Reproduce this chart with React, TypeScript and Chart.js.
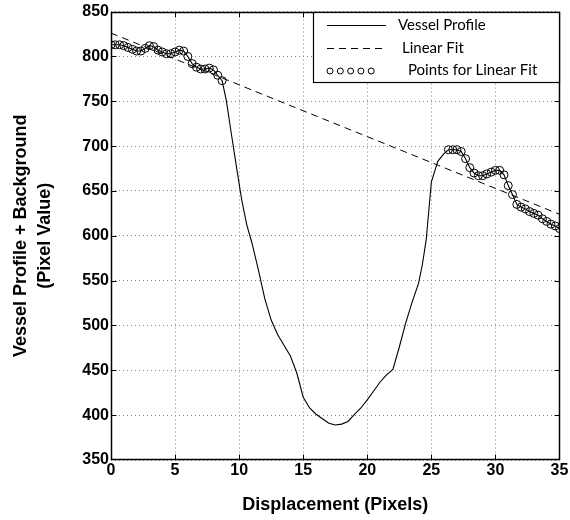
import React, { useEffect, useRef } from 'react';
import { Chart, registerables } from 'chart.js';

Chart.register(...registerables);

// Vessel profile (solid line)
const profileX = [0, 0.33, 0.67, 1, 1.33, 1.67, 2, 2.33, 2.67, 3, 3.33, 3.67, 4, 4.33, 4.67, 5, 5.33, 5.67, 6, 6.33, 6.67, 7, 7.33, 7.67, 8, 8.33, 8.67, 9, 9.4, 9.8, 10.2, 10.6, 11, 11.5, 12, 12.5, 13, 13.5, 14, 14.5, 15, 15.5, 16, 16.5, 17, 17.5, 18, 18.5, 19, 19.5, 20, 20.5, 21, 21.5, 22, 22.5, 23, 23.5, 24, 24.3, 24.6, 24.8, 25, 25.5, 26, 26.33, 26.67, 27, 27.33, 27.67, 28, 28.33, 28.67, 29, 29.33, 29.67, 30, 30.33, 30.67, 31, 31.33, 31.67, 32, 32.33, 32.67, 33, 33.33, 33.67, 34, 34.33, 34.67, 35];
const profileY = [813, 813, 813, 812, 810, 808, 806, 806, 809, 812, 811, 807, 805, 803, 803, 805, 807, 806, 800, 792, 788, 786, 786, 787, 785, 779, 773, 751, 713, 676, 640, 612, 592, 562, 530, 506, 490, 478, 466, 447, 420, 408, 401, 396, 391, 389, 390, 393, 401, 408, 417, 427, 437, 445, 451, 476, 503, 526, 547, 568, 596, 628, 660, 683, 692, 696, 696, 696, 694, 686, 676, 670, 667, 667, 669, 671, 673, 673, 668, 656, 646, 635, 632, 630, 627, 625, 623, 619, 616, 613, 611, 608];

// Points used for the linear fit (circles)
const fitX = [0, 0.33, 0.67, 1, 1.33, 1.67, 2, 2.33, 2.67, 3, 3.33, 3.67, 4, 4.33, 4.67, 5, 5.33, 5.67, 6, 6.33, 6.67, 7, 7.33, 7.67, 8, 8.33, 8.67, 26.33, 26.67, 27, 27.33, 27.67, 28, 28.33, 28.67, 29, 29.33, 29.67, 30, 30.33, 30.67, 31, 31.33, 31.67, 32, 32.33, 32.67, 33, 33.33, 33.67, 34, 34.33, 34.67, 35];
const fitY = [813, 813, 813, 812, 810, 808, 806, 806, 809, 812, 811, 807, 805, 803, 803, 805, 807, 806, 800, 792, 788, 786, 786, 787, 785, 779, 773, 696, 696, 696, 694, 686, 676, 670, 667, 667, 669, 671, 673, 673, 668, 656, 646, 635, 632, 630, 627, 625, 623, 619, 616, 613, 611, 608];

// Linear fit (dashed)
const lineX = [0, 35];
const lineY = [826, 624];

const xTicks = [0, 5, 10, 15, 20, 25, 30, 35];
const yTicks = [350, 400, 450, 500, 550, 600, 650, 700, 750, 800, 850];

const legendLabels = ['Vessel Profile', 'Linear Fit', 'Points for Linear Fit'];
const xTitle = 'Displacement (Pixels)';
const yTitle = ['Vessel Profile + Background', '(Pixel Value)'];

const AXIS_FONT = 'Liberation Sans, Arial, sans-serif';
const LEGEND_FONT = 'Lato, "Noto Sans", sans-serif';

const framePlugin = {
  id: 'frame',
  afterDraw(chart: any) {
    const { ctx, chartArea: a, scales } = chart;
    const L = Math.round(a.left) + 0.5;
    const R = Math.round(a.right) - 0.5;
    const T = Math.round(a.top) + 0.5;
    const B = Math.round(a.bottom) - 0.5;
    ctx.save();
    ctx.setLineDash([]);
    ctx.strokeStyle = '#000';
    ctx.lineWidth = 1;
    // inward tick marks
    ctx.beginPath();
    const tl = 5;
    xTicks.forEach((v) => {
      const px = Math.round(scales.x.getPixelForValue(v)) + 0.5;
      if (v === xTicks[0] || v === xTicks[xTicks.length - 1]) return;
      ctx.moveTo(px, B); ctx.lineTo(px, B - tl);
      ctx.moveTo(px, T); ctx.lineTo(px, T + tl);
    });
    yTicks.forEach((v) => {
      const py = Math.round(scales.y.getPixelForValue(v)) + 0.5;
      if (v === yTicks[0] || v === yTicks[yTicks.length - 1]) return;
      ctx.moveTo(L, py); ctx.lineTo(L + tl, py);
      ctx.moveTo(R, py); ctx.lineTo(R - tl, py);
    });
    ctx.stroke();
    // box
    ctx.lineWidth = 1.5;
    ctx.strokeRect(L, T, R - L, B - T);

    // legend
    const lx = 313.5, ly = T, lw = R - 313.5, lh = 70;
    ctx.fillStyle = '#fff';
    ctx.fillRect(lx, ly, lw, lh);
    ctx.lineWidth = 1.2;
    ctx.strokeRect(lx, ly, lw, lh);
    ctx.lineWidth = 1;
    // row 1: solid line
    ctx.beginPath();
    ctx.moveTo(327, 25.5); ctx.lineTo(386, 25.5);
    ctx.stroke();
    // row 2: dashed
    ctx.setLineDash([7, 5]);
    ctx.beginPath();
    ctx.moveTo(327, 48.5); ctx.lineTo(384, 48.5);
    ctx.stroke();
    ctx.setLineDash([]);
    // row 3: circles
    for (let i = 0; i < 5; i++) {
      ctx.beginPath();
      ctx.arc(330 + i * 10.3, 71, 3, 0, Math.PI * 2);
      ctx.stroke();
    }
    ctx.fillStyle = '#000';
    ctx.font = '15px ' + LEGEND_FONT;
    ctx.textBaseline = 'middle';
    ctx.textAlign = 'left';
    ctx.fillText(legendLabels[0], 398, 25);
    ctx.fillText(legendLabels[1], 402, 48);
    ctx.fillText(legendLabels[2], 408, 70);
    ctx.restore();
  },
};

export default function App() {
  const ref = useRef<HTMLCanvasElement | null>(null);

  useEffect(() => {
    if (!ref.current) return;
    const tickFont = { family: AXIS_FONT, weight: 'bold' as const, size: 16 };
    const titleFont = { family: AXIS_FONT, weight: 'bold' as const, size: 18, lineHeight: 1.35 };
    const chart = new Chart(ref.current, {
      type: 'scatter',
      data: {
        datasets: [
          {
            label: legendLabels[2],
            data: fitX.map((x, i) => ({ x, y: fitY[i] })),
            showLine: false,
            pointRadius: 4,
            pointStyle: 'circle',
            backgroundColor: 'rgba(0,0,0,0)',
            borderColor: '#000',
            pointBorderWidth: 1,
          },
          {
            label: legendLabels[1],
            data: lineX.map((x, i) => ({ x, y: lineY[i] })),
            showLine: true,
            pointRadius: 0,
            borderColor: '#000',
            borderWidth: 1,
            borderDash: [7, 5],
          },
          {
            label: legendLabels[0],
            data: profileX.map((x, i) => ({ x, y: profileY[i] })),
            showLine: true,
            pointRadius: 0,
            borderColor: '#000',
            borderWidth: 1.1,
            tension: 0,
          },
        ],
      },
      options: {
        animation: false,
        responsive: false,
        maintainAspectRatio: false,
        events: [],
        layout: { padding: { top: 10, right: 10.5, left: 0, bottom: 0 } },
        plugins: { legend: { display: false }, tooltip: { enabled: false } },
        scales: {
          x: {
            type: 'linear',
            min: 0,
            max: 35,
            afterBuildTicks: (s: any) => { s.ticks = xTicks.map((v) => ({ value: v })); },
            afterFit: (s: any) => { s.height = 60; },
            ticks: { font: tickFont, color: '#000', padding: 1, maxRotation: 0, autoSkip: false },
            grid: { color: '#8a8a8a', lineWidth: 1, drawTicks: false },
            border: { display: false, dash: [1, 3] },
            title: { display: true, text: xTitle, font: titleFont, color: '#000', padding: { top: 0, bottom: 3 } },
          },
          y: {
            type: 'linear',
            min: 350,
            max: 850,
            afterBuildTicks: (s: any) => { s.ticks = yTicks.map((v) => ({ value: v })); },
            afterFit: (s: any) => { s.width = 111; },
            ticks: { font: tickFont, color: '#000', padding: 2, autoSkip: false },
            grid: { color: '#8a8a8a', lineWidth: 1, drawTicks: false },
            border: { display: false, dash: [1, 3] },
            title: { display: true, text: yTitle, font: titleFont, color: '#000', padding: { top: 9, bottom: 0 } },
          },
        },
      },
      plugins: [framePlugin],
    });
    return () => chart.destroy();
  }, []);

  return (
    <div style={{ position: 'absolute', left: 0, top: 0, width: 570, height: 520, background: '#fff' }}>
      <canvas ref={ref} width={570} height={520} style={{ display: 'block' }} />
    </div>
  );
}
